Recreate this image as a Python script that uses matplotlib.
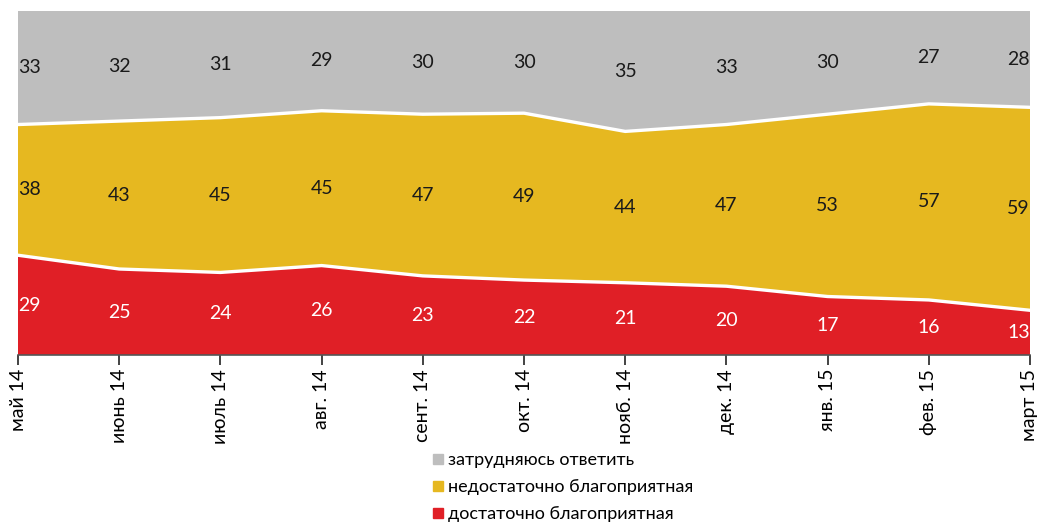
import matplotlib
matplotlib.use("Agg")
import matplotlib.pyplot as plt
import numpy as np
from matplotlib.lines import Line2D

plt.rcParams['font.family'] = ['Lato', 'DejaVu Sans']

months = ["май 14", "июнь 14", "июль 14", "авг. 14", "сент. 14", "окт. 14",
          "нояб. 14", "дек. 14", "янв. 15", "фев. 15", "март 15"]
favorable = [29, 25, 24, 26, 23, 22, 21, 20, 17, 16, 13]
unfavorable = [38, 43, 45, 45, 47, 49, 44, 47, 53, 57, 59]
undecided = [33, 32, 31, 29, 30, 30, 35, 33, 30, 27, 28]

series_names = ["достаточно благоприятная", "недостаточно благоприятная", "затрудняюсь ответить"]
colors = ["#E01F26", "#E6B820", "#BEBEBE"]
label_colors = ["white", "#1a1a1a", "#1a1a1a"]

fig = plt.figure(figsize=(10.41, 5.25), dpi=100)
ax = fig.add_axes([18 / 1041, 1 - 355 / 525, (1030 - 18) / 1041, (355 - 11) / 525])

x = np.arange(len(months))
raw = np.array([favorable, unfavorable, undecided], dtype=float)
# 100% stacked: scale each month so the shares add up to 100
shares = raw / raw.sum(axis=0) * 100
ax.stackplot(x, *shares, colors=colors, linewidth=0)

# white separators between the bands
cum = np.cumsum(shares, axis=0)
for row in cum[:-1]:
    ax.plot(x, row, color="white", linewidth=2.4, solid_joinstyle="round")

ax.set_xlim(0, len(months) - 1)
ax.set_ylim(0, 100)

# value labels in the middle of each band
base = np.zeros(len(months))
for vals, sh, tc in zip(raw, shares, label_colors):
    mids = base + sh / 2
    for i, (xi, m, v) in enumerate(zip(x, mids, vals)):
        ha = "center"
        if i == 0:
            ha = "left"
        elif i == len(months) - 1:
            ha = "right"
        ax.text(xi, m, f"{int(v)}", ha=ha, va="center", fontsize=14, color=tc)
    base = base + sh

ax.set_yticks([])
ax.set_xticks(x)
ax.set_xticklabels(months, rotation=90, fontsize=14)
ax.tick_params(axis="x", direction="out", length=7, width=1.2, color="#222222", pad=3)
for s in ["top", "right", "left"]:
    ax.spines[s].set_visible(False)
ax.spines["bottom"].set_color("#555555")
ax.spines["bottom"].set_linewidth(1.2)

handles = [Line2D([0], [0], marker="s", linestyle="none", markersize=7,
                  markerfacecolor=c, markeredgecolor=c) for c in colors[::-1]]
fig.legend(handles, series_names[::-1], loc="upper left",
           bbox_to_anchor=(420 / 1041, 1 - 443 / 525), frameon=False,
           fontsize=13, handletextpad=0.05, labelspacing=0.62, borderpad=0,
           handlelength=1.0)

fig.savefig("out.png", dpi=100)
